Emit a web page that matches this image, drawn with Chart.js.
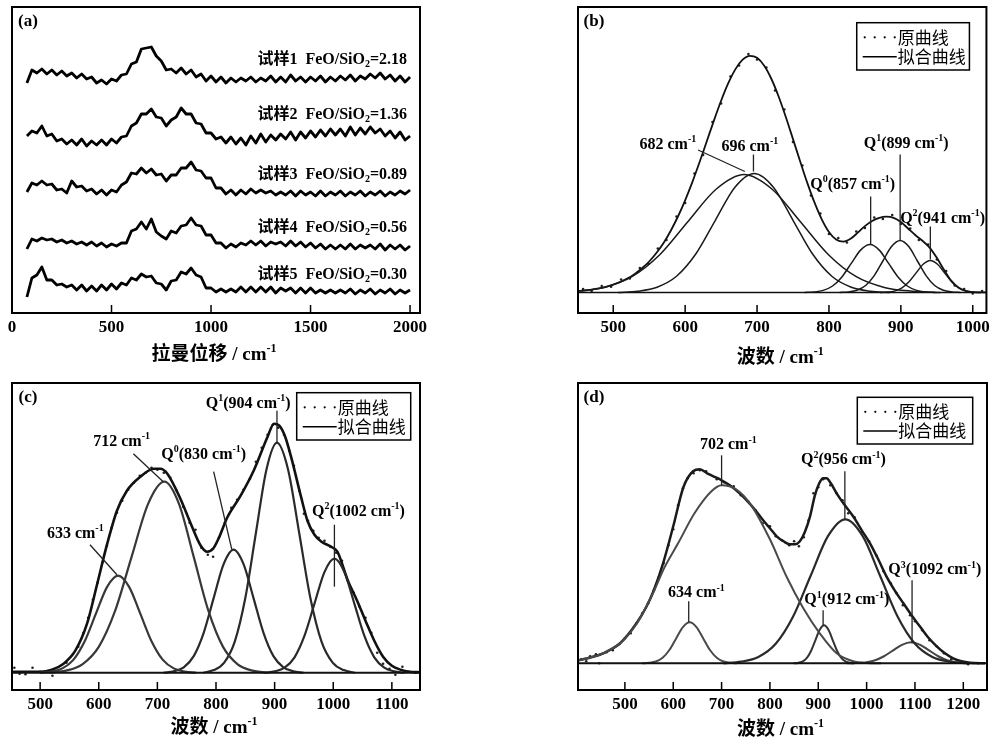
<!DOCTYPE html>
<html>
<head>
<meta charset="utf-8">
<script src="https://cdn.jsdelivr.net/npm/chart.js@4.4.0/dist/chart.umd.min.js"></script>
<style>
  body { margin: 0; background: #fff; width: 994px; height: 744px; position: relative; overflow: hidden; }
  canvas { position: absolute; }
</style>
</head>
<body>
<canvas id="pa" width="440" height="372" style="left:0;top:0"></canvas>
<canvas id="pb" width="434" height="372" style="left:560px;top:0"></canvas>
<canvas id="pc" width="440" height="372" style="left:0;top:372px"></canvas>
<canvas id="pd" width="434" height="372" style="left:560px;top:372px"></canvas>
<script>
// ---------- (a) Raman spectra, offset vertically ----------
var aX = [75,100,125,150,175,200,225,250,275,300,325,350,375,400,425,450,475,500,525,550,575,600,625,650,675,700,725,750,775,800,825,850,875,900,925,950,975,1000,1025,1050,1075,1100,1125,1150,1175,1200,1225,1250,1275,1300,1325,1350,1375,1400,1425,1450,1475,1500,1525,1550,1575,1600,1625,1650,1675,1700,1725,1750,1775,1800,1825,1850,1875,1900,1925,1950,1975,2000];
var aS1 = [230,243,240,244,239,243,238,242,237,240,235,239,234,236,230,233,229,234,232,238,239,249,251,264,265,266,257,252,243,244,240,245,239,243,236,239,232,237,231,236,230,235,231,235,232,236,231,235,232,237,231,236,231,238,232,236,231,236,232,237,231,236,232,237,233,238,232,237,234,239,235,240,234,238,232,237,231,236];
var aS2 = [177,182,180,187,177,179,172,174,169,173,168,174,167,172,168,173,168,174,170,176,177,187,190,199,199,204,196,195,187,193,196,205,199,199,190,189,180,180,174,176,170,176,169,175,168,177,170,179,171,178,173,179,174,181,173,181,175,182,176,183,177,184,178,184,177,186,178,185,179,186,180,184,177,182,175,181,173,177];
var aS3 = [121,130,128,132,128,129,123,124,120,132,126,127,122,124,119,123,118,123,121,128,131,140,139,145,140,144,138,139,132,138,138,145,145,151,143,142,135,135,125,125,119,123,118,123,119,124,120,123,120,122,118,121,118,122,117,122,118,121,117,122,117,121,118,122,117,121,118,122,117,121,118,122,117,121,118,122,119,123];
var aS4 = [64,74,72,75,73,74,71,73,70,72,69,71,68,71,67,70,66,69,67,70,70,82,84,91,84,94,81,77,74,82,80,87,88,95,88,87,78,78,70,70,65,69,66,70,68,72,68,72,67,71,69,71,67,72,67,71,66,70,65,69,64,68,64,68,64,69,64,68,65,68,64,69,63,68,64,68,63,67];
var aS5 = [16,35,38,46,33,33,28,29,26,28,23,28,22,27,22,28,23,29,24,30,28,35,33,39,36,37,30,29,23,32,33,41,39,45,38,36,25,25,21,24,21,24,21,26,21,26,21,26,21,26,20,25,22,25,20,25,20,25,20,23,20,23,20,23,20,24,19,23,20,24,19,23,20,24,19,23,20,23];
var aNames = ['试样1  FeO/SiO{_2}=2.18', '试样2  FeO/SiO{_2}=1.36', '试样3  FeO/SiO{_2}=0.89', '试样4  FeO/SiO{_2}=0.56', '试样5  FeO/SiO{_2}=0.30'];
var aTicks = [0, 500, 1000, 1500, 2000];

// ---------- (b) fit, sample 1 ----------
var bFitX = [450,460,470,480,490,500,510,520,530,540,550,560,570,580,590,600,610,620,630,640,650,660,670,680,690,700,710,720,730,740,750,760,770,780,790,800,810,820,830,840,850,860,870,880,890,900,910,920,930,940,950,960,970,980,990,1000,1010,1020];
var bFitY = [1.4,2.0,2.9,4.1,5.7,7.9,10.6,14.1,18.6,24.2,31.0,39.5,49.6,61.8,76.0,92.2,110.4,130.2,151.0,171.9,191.7,209.3,223.4,232.8,236.7,234.7,226.7,213.5,196.0,175.5,153.4,131.0,109.4,89.8,73.2,60.5,52.9,50.8,53.7,59.8,66.4,71.5,74.7,75.9,74.7,70.5,64.0,57.5,51.7,44.9,34.7,22.7,11.9,5.0,1.6,0.4,0.1,0];
var bRawX = [458,470,484,497,511,523,537,549,562,574,588,600,613,625,638,650,663,675,688,700,713,725,738,750,763,775,788,800,813,825,838,850,863,875,888,900,913,925,938,950,963,975,988,1000,1013];
var bRawY = [3.5,1.5,6.5,5.8,13,14,24.5,28.6,44,52.5,76,89.5,119,137.5,170.5,189,216,227,238.5,233,225,202,183,150.5,127,97,79,58.5,54.5,50,61,64.5,75,73.5,77.5,68.5,64,52.5,48,33,21.5,7,3.5,-1,1.5];
var b682X = [448,487,526,565,604,643,682,721,760,799,838,877,916,955];
var b682Y = [1.3,5.1,15.8,38.0,71.0,103.3,118,103.3,71.0,38.0,15.8,5.1,1.3,0];
var b696X = [507,534,561,588,615,642,669,696,723,750,777,804,831,858,885];
var b696Y = [0,1.3,5.3,16.2,38.7,72.2,105.1,119,105.1,72.2,38.7,16.2,5.3,1.3,0];
var bQ0X = [766,779,792,805,818,831,844,857,870,883,896,909,922,935,948];
var bQ0Y = [0,0.5,2.1,6.5,15.6,29.1,42.4,48,42.4,29.1,15.6,6.5,2.1,0.5,0];
var bQ1X = [815,827,839,851,863,875,887,899,911,923,935,947,959,971,983];
var bQ1Y = [0,0.6,2.3,7.0,16.9,31.5,45.9,52,45.9,31.5,16.9,7.0,2.3,0.6,0];
var bQ2X = [871,881,891,901,911,921,931,941,951,961,971,981,991,1001,1011];
var bQ2Y = [0,0.4,1.4,4.3,10.4,19.4,28.2,32,28.2,19.4,10.4,4.3,1.4,0.4,0];
var bTicks = [500, 600, 700, 800, 900, 1000];

// ---------- (c) fit ----------
var cFitX = [452,480,500,520,540,560,580,597,614,631,648,671,694,705,717,740,757,774,785,795,805,819,842,865,888,899,908,918,928,945,956,968,980,996,1007,1025,1040,1055,1070,1085,1100,1115,1130,1148];
var cFitY = [1,1,1,3,9,22,49,88,128,162,182,196,204,204,199,173,149,127,121,124,135,155,177,203,236,249,247,236,216,176,152,138,131,126,121,92,73,52,32,16,7,3,1,0.5];
var cRawX = [456,465,475,487,500,521,545,565,574,582,590,598,606,614,622,631,640,650,660,670,680,690,700,711,722,733,744,755,765,775,786,795,805,815,826,836,847,858,868,878,888,897,906,916,925,933,942,950,957,966,975,985,995,1005,1015,1025,1035,1045,1055,1065,1075,1085,1096,1106,1118,1128,1140];
var cRawY = [5,-1,-1.5,5,1,-3,10,26,40,55,73,90,110,127,145,160,172,183,190,197,200,205,203,200,195,182,166,150,143,125,118,116,135,150,165,173,183,194,211,225,238,248,245,238,222,207,182,159,152,142,135,132,126,120,112,92,80,66,55,40,20,9,4,-2,6,1,0];
var c633X = [500,519,538,557,576,595,614,633,652,671,690,709,728,747,766];
var c633Y = [0,1.1,4.3,13.1,31.5,58.8,85.6,97,85.6,58.8,31.5,13.1,4.3,1.1,0];
var c712X = [516,544,572,600,628,656,684,712,737,762,787,812,837,862,887];
var c712Y = [0,2.1,8.4,25.8,62.0,115.8,168.6,191,168.6,115.8,62.0,25.8,8.4,2.1,0];
var cQ0X = [711,728,745,762,779,796,813,830,847,864,881,898,915,932,949];
var cQ0Y = [0,1.4,5.4,16.6,39.9,74.6,108.5,123,108.5,74.6,39.9,16.6,5.4,1.4,0];
var cQ1X = [778,796,814,832,850,868,886,904,923,942,961,980,999,1018,1037];
var cQ1Y = [0,2.6,10.1,31.1,74.7,139.5,203.0,230,203.0,139.5,74.7,31.1,10.1,2.6,0];
var cQ2X = [883,900,917,934,951,968,985,1002,1019,1036,1053,1070,1087,1104,1121];
var cQ2Y = [0,1.3,5.0,15.4,37.0,69.1,100.6,114,100.6,69.1,37.0,15.4,5.0,1.3,0];
var cTicks = [500, 600, 700, 800, 900, 1000, 1100];

// ---------- (d) fit ----------
var dFitX = [405,430,455,490,524,545,559,579,600,621,641,655,670,683,700,717,735,752,770,786,800,814,828,841,852,862,872,883,893,902,910,917,926,938,955,972,990,1007,1024,1041,1058,1076,1093,1110,1127,1145,1162,1179,1196,1214,1245];
var dFitY = [3,6,10,20,40,57,72,100,137,176,192,194,190,187,183,178,171,163,153,143,135,127,122,119,119,122,131,147,168,180,185,185,180,170,158,147,133,120,104,87,73,60,48,37,26,17,10,5,2,0.5,0];
var dRawX = [410,420,428,440,447,462,475,488,500,512,524,536,548,560,570,580,590,600,610,620,630,642,655,668,690,705,715,725,740,755,770,785,800,812,825,840,850,860,870,880,890,900,910,925,938,950,962,975,990,1005,1020,1035,1050,1062,1075,1090,1100,1115,1130,1145,1160,1175,1195,1210,1230];
var dRawY = [4,2,7,9,0,11,13,19,25,30,40,50,60,73,86,100,118,134,158,175,185,190,193,192,184,181,178,177,168,162,153,140,137,127,123,118,122,117,126,143,170,176,184,178,170,163,150,146,131,122,108,92,80,70,58,48,42,33,23,17,10,4,1,-1,0];
var d634X = [536,550,564,578,592,606,620,634,648,662,676,690,704,718,732];
var d634Y = [0,0.5,1.8,5.5,13.3,24.9,36.2,41,36.2,24.9,13.3,5.5,1.8,0.5,0];
var d702X = [405,455,490,525,558,582,610,644,679,700,730,760,800,835,869,903,938,972,1000,1030];
var d702Y = [3,10,20,40,70,96,120,150,172,178,174,159,124,86,55,30,10,2,0.3,0];
var dQ1X = [849,858,867,876,885,894,903,912,921,930,939,948,957,966,975];
var dQ1Y = [0,0.4,1.7,5.1,12.3,23.0,33.5,38,33.5,23.0,12.3,5.1,1.7,0.4,0];
var dQ2X = [704,740,776,812,848,884,920,956,992,1028,1064,1100,1136,1172,1208];
var dQ2Y = [0,1.6,6.3,19.5,46.8,87.3,127.1,144,127.1,87.3,46.8,19.5,6.3,1.6,0];
var dQ3X = [959,978,997,1016,1035,1054,1073,1092,1111,1130,1149,1168,1187,1206,1225];
var dQ3Y = [0,0.2,0.9,2.8,6.8,12.7,18.5,21,18.5,12.7,6.8,2.8,0.9,0.2,0];
var dTicks = [500, 600, 700, 800, 900, 1000, 1100, 1200];

var legendNames = ['原曲线', '拟合曲线'];
var waveTitle = '波数 / cm{^-1}';

var SERIF = "'Liberation Serif', 'Noto Sans CJK SC', serif";

function pts(xs, ys) { return xs.map(function (x, i) { return { x: x, y: ys[i] }; }); }
function curve(xs, ys, color, w) {
  return { data: pts(xs, ys), borderColor: color, borderWidth: w, pointRadius: 0, fill: false, cubicInterpolationMode: 'monotone' };
}
function jag(xs, ys) {
  return { data: pts(xs, ys), borderColor: '#000', borderWidth: 2.8, pointRadius: 0, fill: false, tension: 0, borderJoinStyle: 'round' };
}
function raw(xs, ys) {
  return { data: pts(xs, ys), showLine: false, pointRadius: 1.3, pointBackgroundColor: '#222', pointBorderWidth: 0 };
}
function base(x0, x1, w) {
  return { data: pts([x0, x1], [0, 0]), borderColor: '#111', borderWidth: w, pointRadius: 0 };
}

// text with {^sup} and {_sub} pieces
function rich(ctx, str, x, y, size, align) {
  var parts = [];
  str.split(/(\{[\^_][^}]*\})/).forEach(function (p) {
    if (!p) return;
    var m = p.match(/^\{([\^_])(.*)\}$/);
    parts.push(m ? { t: m[2], k: m[1] } : { t: p, k: '' });
  });
  var big = 'bold ' + size + 'px ' + SERIF, small = 'bold ' + Math.round(size * 0.62) + 'px ' + SERIF;
  var w = 0;
  parts.forEach(function (p) { ctx.font = p.k ? small : big; p.w = ctx.measureText(p.t).width; w += p.w; });
  var cx = align === 'right' ? x - w : align === 'center' ? x - w / 2 : x;
  ctx.textAlign = 'left';
  ctx.textBaseline = 'middle';
  parts.forEach(function (p) {
    ctx.font = p.k ? small : big;
    var dy = p.k === '^' ? -size * 0.32 : p.k === '_' ? size * 0.3 : 0;
    ctx.fillText(p.t, cx, y + dy);
    cx += p.w;
  });
}

function deco(cfg) {
  return {
    id: 'deco',
    afterDraw: function (chart) {
      var ctx = chart.ctx, a = chart.chartArea, sx = chart.scales.x, sy = chart.scales.y;
      ctx.save();
      ctx.strokeStyle = '#000';
      ctx.lineWidth = 2;
      ctx.strokeRect(a.left, a.top, a.right - a.left, a.bottom - a.top);
      ctx.lineWidth = 1.5;
      sx.ticks.forEach(function (t) {
        var px = sx.getPixelForValue(t.value);
        ctx.beginPath(); ctx.moveTo(px, a.bottom); ctx.lineTo(px, a.bottom - 8); ctx.stroke();
      });
      ctx.fillStyle = '#000';
      rich(ctx, cfg.tag, a.left + 16, a.top + 15, 17, 'center');
      rich(ctx, cfg.xTitle, (a.left + a.right) / 2 - 2, a.bottom + cfg.titleDy, 19, 'center');
      ctx.strokeStyle = '#222';
      ctx.lineWidth = 1.3;
      (cfg.leaders || []).forEach(function (l) {
        ctx.beginPath();
        ctx.moveTo(sx.getPixelForValue(l[0]), sy.getPixelForValue(l[1]));
        ctx.lineTo(sx.getPixelForValue(l[2]), sy.getPixelForValue(l[3]));
        ctx.stroke();
      });
      (cfg.notes || []).forEach(function (n) {
        rich(ctx, n.t, sx.getPixelForValue(n.x), sy.getPixelForValue(n.y), 16, n.align || 'center');
      });
      if (cfg.legend) {
        var L = cfg.legend;
        var bx = a.right - L.right - L.w, by = a.top + L.top;
        ctx.fillStyle = '#fff';
        ctx.fillRect(bx, by, L.w, L.h);
        ctx.strokeStyle = '#000';
        ctx.lineWidth = 1.5;
        ctx.strokeRect(bx, by, L.w, L.h);
        var r1 = by + L.h * 0.31, r2 = by + L.h * 0.72;
        ctx.fillStyle = '#000';
        for (var i = 0; i < 4; i++) { ctx.beginPath(); ctx.arc(bx + 8 + i * 10, r1, 1.1, 0, 7); ctx.fill(); }
        ctx.beginPath(); ctx.moveTo(bx + 6, r2); ctx.lineTo(bx + 40, r2); ctx.stroke();
        ctx.font = "17px 'Noto Sans CJK SC'";
        ctx.textAlign = 'left';
        ctx.textBaseline = 'middle';
        ctx.fillText(legendNames[0], bx + 41, r1);
        ctx.fillText(legendNames[1], bx + 41, r2);
      }
      ctx.restore();
    }
  };
}

function makeChart(id, cfg) {
  return new Chart(document.getElementById(id), {
    type: 'line',
    data: { datasets: cfg.datasets },
    options: {
      responsive: false,
      animation: false,
      layout: { padding: cfg.pad },
      plugins: { legend: { display: false }, tooltip: { enabled: false } },
      scales: {
        x: {
          type: 'linear', min: cfg.xMin, max: cfg.xMax,
          grid: { display: false, drawTicks: false },
          border: { display: false },
          afterBuildTicks: function (scale) { scale.ticks = cfg.ticks.map(function (v) { return { value: v }; }); },
          ticks: { autoSkip: false, maxRotation: 0, padding: 4, color: '#000',
                   callback: function (v) { return String(v); },
                   font: { family: SERIF, size: 17, weight: 'bold' } }
        },
        y: { type: 'linear', display: false, min: cfg.yMin, max: cfg.yMax }
      }
    },
    plugins: [deco(cfg)]
  });
}

makeChart('pa', {
  pad: { left: 12, top: 7, right: 20, bottom: 30.6 },
  xMin: 0, xMax: 2050, ticks: aTicks, yMin: 0, yMax: 306,
  tag: '(a)', xTitle: '拉曼位移 / cm{^-1}', titleDy: 42,
  datasets: [jag(aX, aS1), jag(aX, aS2), jag(aX, aS3), jag(aX, aS4), jag(aX, aS5)],
  notes: [
    { t: aNames[0], x: 1985, y: 253, align: 'right' },
    { t: aNames[1], x: 1985, y: 198, align: 'right' },
    { t: aNames[2], x: 1985, y: 138, align: 'right' },
    { t: aNames[3], x: 1985, y: 85, align: 'right' },
    { t: aNames[4], x: 1985, y: 38, align: 'right' }
  ]
});

makeChart('pb', {
  pad: { left: 18, top: 7, right: 7, bottom: 30.6 },
  xMin: 451, xMax: 1019, ticks: bTicks, yMin: -20.5, yMax: 285.5,
  tag: '(b)', xTitle: waveTitle, titleDy: 45,
  datasets: [
    base(451, 1019, 1.6),
    curve(b682X, b682Y, '#1a1a1a', 1.5), curve(b696X, b696Y, '#1a1a1a', 1.5),
    curve(bQ0X, bQ0Y, '#1a1a1a', 1.5), curve(bQ1X, bQ1Y, '#1a1a1a', 1.5), curve(bQ2X, bQ2Y, '#1a1a1a', 1.5),
    curve(bFitX, bFitY, '#111', 1.8),
    raw(bRawX, bRawY)
  ],
  leaders: [[618, 142.5, 683, 121], [695, 138, 695, 121], [858, 96, 858, 48], [899, 138, 899, 52], [941, 66, 941, 33]],
  notes: [
    { t: '682 cm{^-1}', x: 576, y: 147.5 },
    { t: '696 cm{^-1}', x: 690, y: 145.8 },
    { t: 'Q{^0}(857 cm{^-1})', x: 833, y: 107.5 },
    { t: 'Q{^1}(899 cm{^-1})', x: 907.5, y: 148.5 },
    { t: 'Q{^2}(941 cm{^-1})', x: 958, y: 74 }
  ],
  legend: { right: 17, top: 15.7, w: 112.7, h: 47.3 }
});

makeChart('pc', {
  pad: { left: 12, top: 11, right: 20, bottom: 25.6 },
  xMin: 452, xMax: 1148, ticks: cTicks, yMin: -17.3, yMax: 289.7,
  tag: '(c)', xTitle: waveTitle, titleDy: 38,
  datasets: [
    base(452, 1148, 2),
    curve(c633X, c633Y, '#383838', 2.2), curve(c712X, c712Y, '#383838', 2.2), curve(cQ0X, cQ0Y, '#2a2a2a', 2.2),
    curve(cQ1X, cQ1Y, '#2a2a2a', 2.2), curve(cQ2X, cQ2Y, '#2a2a2a', 2.2),
    curve(cFitX, cFitY, '#111', 2.6),
    raw(cRawX, cRawY)
  ],
  leaders: [[585, 128, 631, 98], [659, 219, 710, 191], [796, 201, 827, 123], [904, 262, 904, 230], [1002, 148, 1002, 86]],
  notes: [
    { t: '633 cm{^-1}', x: 560, y: 139 },
    { t: '712 cm{^-1}', x: 639, y: 231 },
    { t: 'Q{^0}(830 cm{^-1})', x: 779, y: 218 },
    { t: 'Q{^1}(904 cm{^-1})', x: 855, y: 269 },
    { t: 'Q{^2}(1002 cm{^-1})', x: 1043, y: 161 }
  ],
  legend: { right: 9.3, top: 9.7, w: 114, h: 47.3 }
});

makeChart('pd', {
  pad: { left: 18, top: 11, right: 7, bottom: 25.6 },
  xMin: 403, xMax: 1249, ticks: dTicks, yMin: -26.7, yMax: 280.3,
  tag: '(d)', xTitle: waveTitle, titleDy: 40,
  datasets: [
    base(403, 1249, 2),
    curve(d634X, d634Y, '#4a4a4a', 2), curve(d702X, d702Y, '#4a4a4a', 2), curve(dQ1X, dQ1Y, '#333', 2),
    curve(dQ2X, dQ2Y, '#2a2a2a', 2.2), curve(dQ3X, dQ3Y, '#444', 2),
    curve(dFitX, dFitY, '#1a1a1a', 2.5),
    raw(dRawX, dRawY)
  ],
  leaders: [[700, 208, 700, 178], [955, 192, 955, 144], [632, 62, 632, 41], [910, 53, 910, 38], [1094, 83, 1094, 20]],
  notes: [
    { t: '702 cm{^-1}', x: 714, y: 218 },
    { t: 'Q{^2}(956 cm{^-1})', x: 952, y: 203 },
    { t: '634 cm{^-1}', x: 648, y: 70 },
    { t: 'Q{^1}(912 cm{^-1})', x: 959, y: 63 },
    { t: 'Q{^3}(1092 cm{^-1})', x: 1141, y: 93 }
  ],
  legend: { right: 14.3, top: 14.3, w: 115.4, h: 46.7 }
});
</script>
</body>
</html>
